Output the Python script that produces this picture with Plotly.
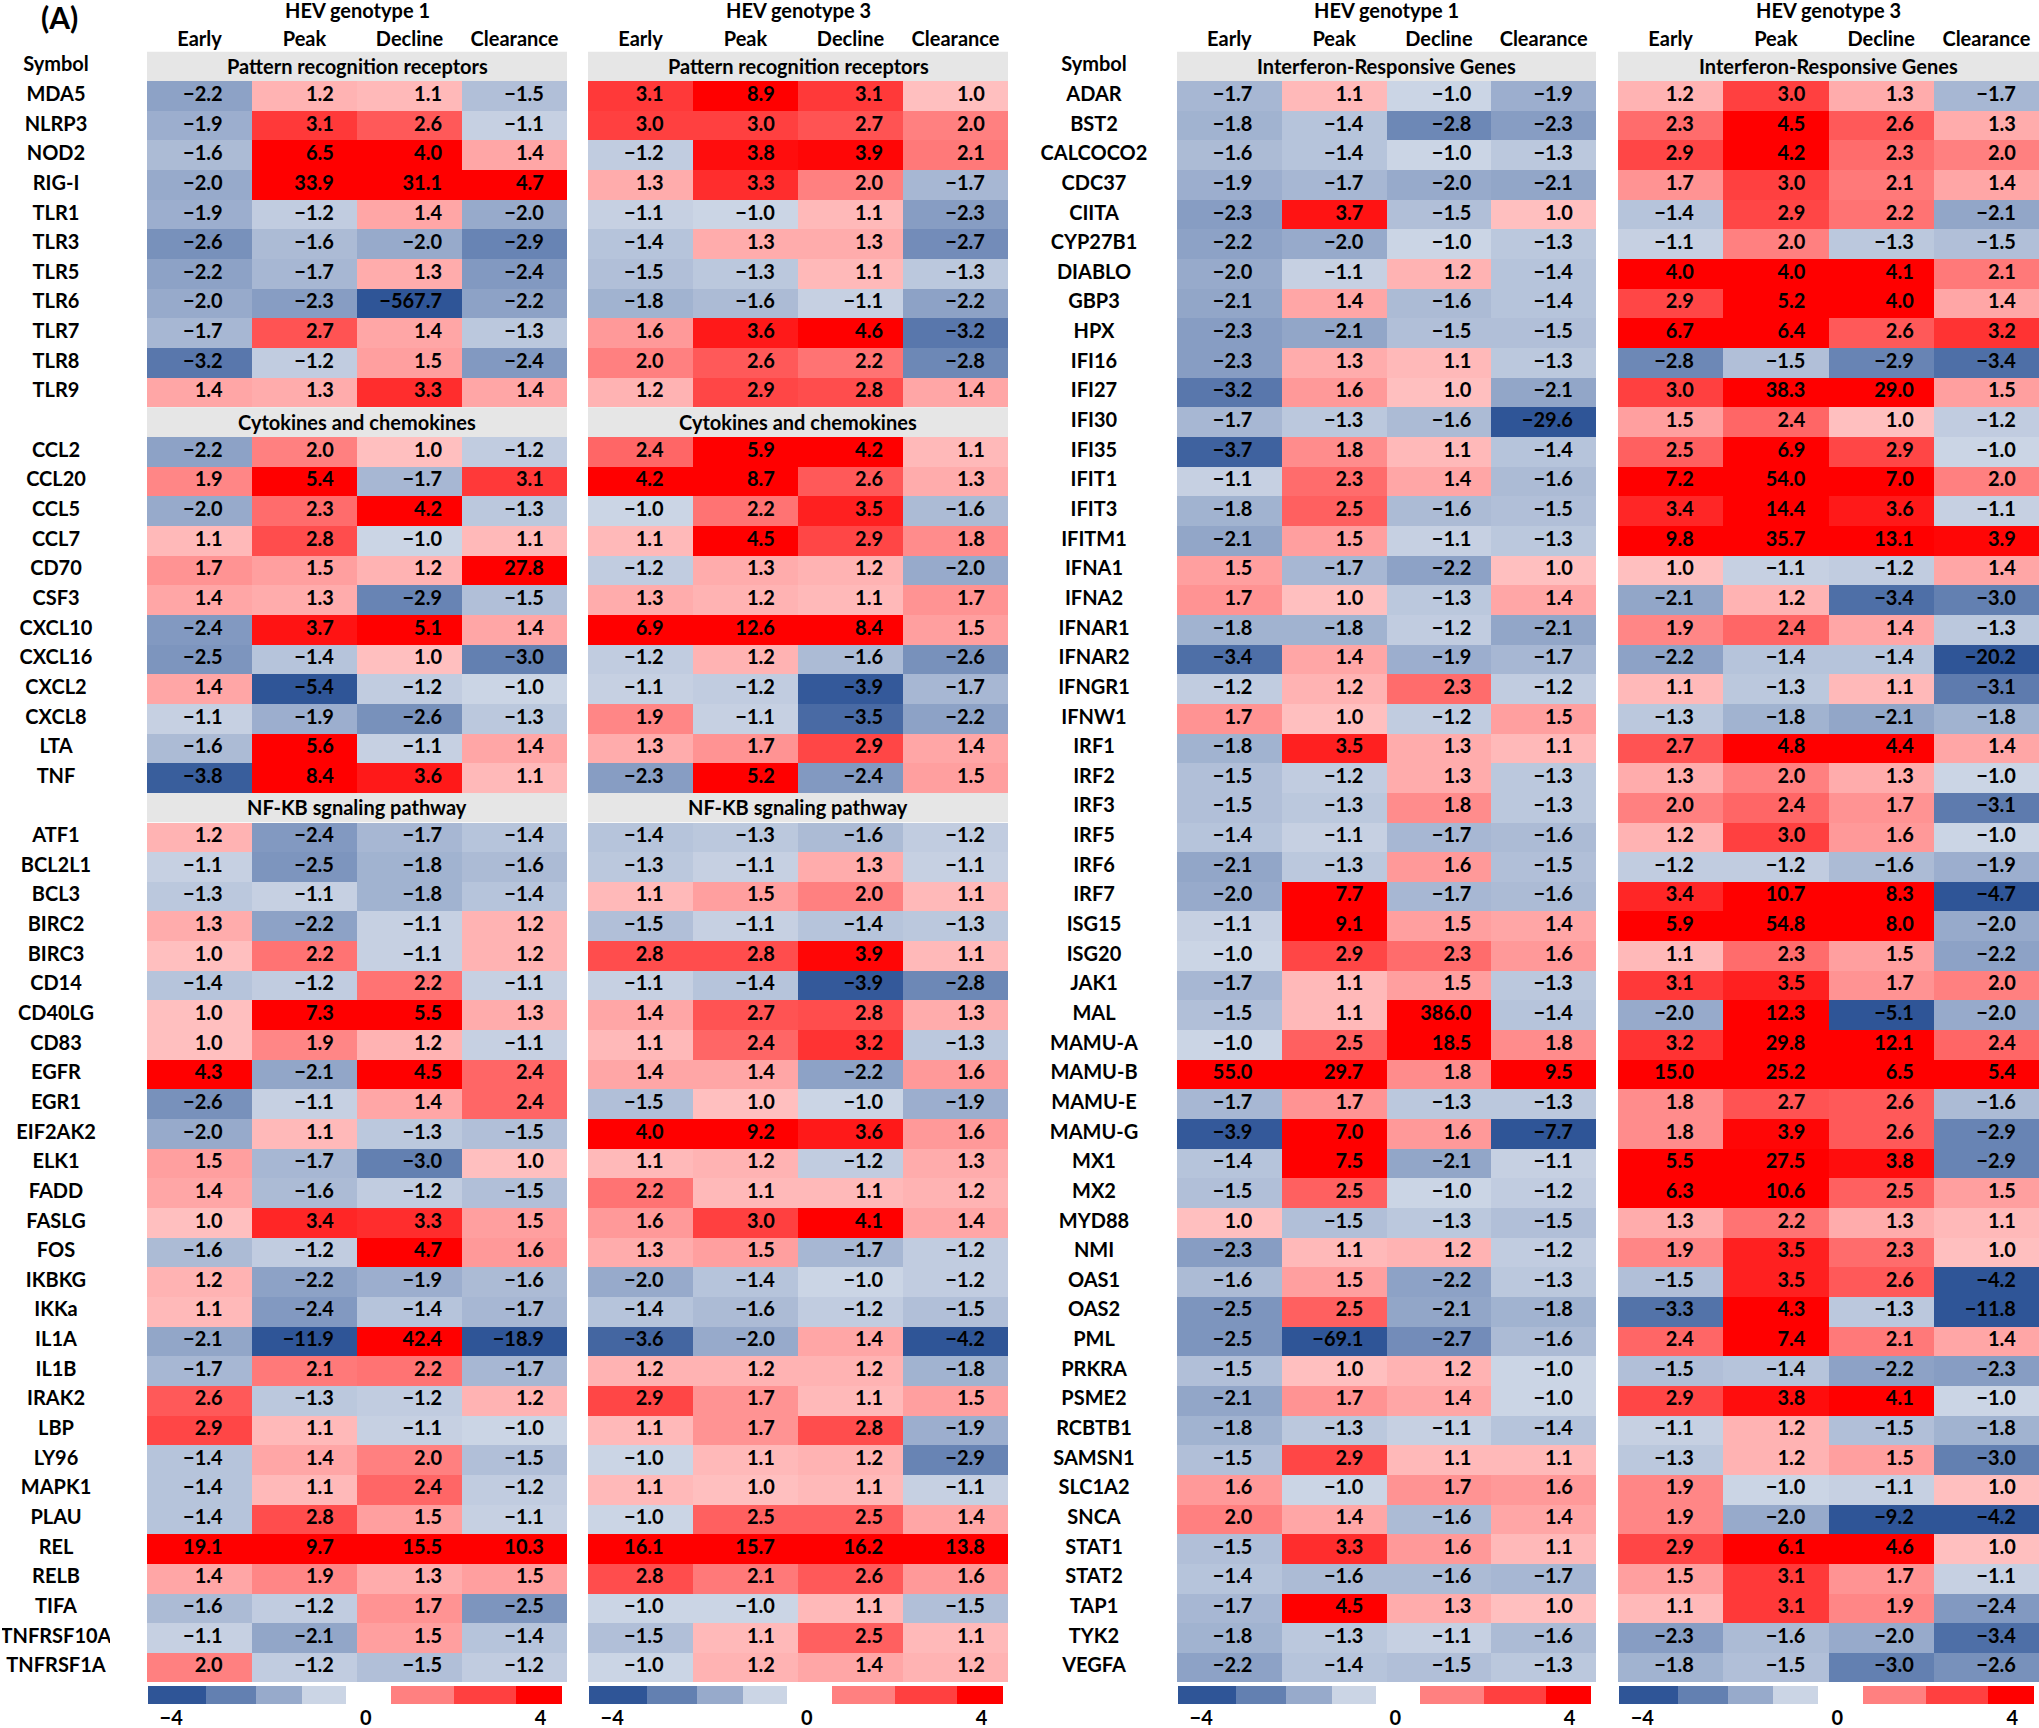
import math
import plotly.graph_objects as go

# ---------------- data ----------------
STAGES = ["Early", "Peak", "Decline", "Clearance"]
GENOTYPES = ["HEV genotype 1", "HEV genotype 3"]

PRR_TITLE = "Pattern recognition receptors"
PRR_GENES = ["MDA5", "NLRP3", "NOD2", "RIG-I", "TLR1", "TLR3", "TLR5", "TLR6", "TLR7", "TLR8", "TLR9"]
PRR_G1 = [[-2.2, 1.2, 1.1, -1.5], [-1.9, 3.1, 2.6, -1.1], [-1.6, 6.5, 4.0, 1.4], [-2.0, 33.9, 31.1, 4.7],
          [-1.9, -1.2, 1.4, -2.0], [-2.6, -1.6, -2.0, -2.9], [-2.2, -1.7, 1.3, -2.4], [-2.0, -2.3, -567.7, -2.2],
          [-1.7, 2.7, 1.4, -1.3], [-3.2, -1.2, 1.5, -2.4], [1.4, 1.3, 3.3, 1.4]]
PRR_G3 = [[3.1, 8.9, 3.1, 1.0], [3.0, 3.0, 2.7, 2.0], [-1.2, 3.8, 3.9, 2.1], [1.3, 3.3, 2.0, -1.7],
          [-1.1, -1.0, 1.1, -2.3], [-1.4, 1.3, 1.3, -2.7], [-1.5, -1.3, 1.1, -1.3], [-1.8, -1.6, -1.1, -2.2],
          [1.6, 3.6, 4.6, -3.2], [2.0, 2.6, 2.2, -2.8], [1.2, 2.9, 2.8, 1.4]]

CYTO_TITLE = "Cytokines and chemokines"
CYTO_GENES = ["CCL2", "CCL20", "CCL5", "CCL7", "CD70", "CSF3", "CXCL10", "CXCL16", "CXCL2", "CXCL8", "LTA", "TNF"]
CYTO_G1 = [[-2.2, 2.0, 1.0, -1.2], [1.9, 5.4, -1.7, 3.1], [-2.0, 2.3, 4.2, -1.3], [1.1, 2.8, -1.0, 1.1],
           [1.7, 1.5, 1.2, 27.8], [1.4, 1.3, -2.9, -1.5], [-2.4, 3.7, 5.1, 1.4], [-2.5, -1.4, 1.0, -3.0],
           [1.4, -5.4, -1.2, -1.0], [-1.1, -1.9, -2.6, -1.3], [-1.6, 5.6, -1.1, 1.4], [-3.8, 8.4, 3.6, 1.1]]
CYTO_G3 = [[2.4, 5.9, 4.2, 1.1], [4.2, 8.7, 2.6, 1.3], [-1.0, 2.2, 3.5, -1.6], [1.1, 4.5, 2.9, 1.8],
           [-1.2, 1.3, 1.2, -2.0], [1.3, 1.2, 1.1, 1.7], [6.9, 12.6, 8.4, 1.5], [-1.2, 1.2, -1.6, -2.6],
           [-1.1, -1.2, -3.9, -1.7], [1.9, -1.1, -3.5, -2.2], [1.3, 1.7, 2.9, 1.4], [-2.3, 5.2, -2.4, 1.5]]

NFKB_TITLE = "NF-KB sgnaling pathway"
NFKB_GENES = ["ATF1", "BCL2L1", "BCL3", "BIRC2", "BIRC3", "CD14", "CD40LG", "CD83", "EGFR", "EGR1", "EIF2AK2",
              "ELK1", "FADD", "FASLG", "FOS", "IKBKG", "IKKa", "IL1A", "IL1B", "IRAK2", "LBP", "LY96", "MAPK1",
              "PLAU", "REL", "RELB", "TIFA", "TNFRSF10A", "TNFRSF1A"]
NFKB_G1 = [[1.2, -2.4, -1.7, -1.4], [-1.1, -2.5, -1.8, -1.6], [-1.3, -1.1, -1.8, -1.4], [1.3, -2.2, -1.1, 1.2],
           [1.0, 2.2, -1.1, 1.2], [-1.4, -1.2, 2.2, -1.1], [1.0, 7.3, 5.5, 1.3], [1.0, 1.9, 1.2, -1.1],
           [4.3, -2.1, 4.5, 2.4], [-2.6, -1.1, 1.4, 2.4], [-2.0, 1.1, -1.3, -1.5], [1.5, -1.7, -3.0, 1.0],
           [1.4, -1.6, -1.2, -1.5], [1.0, 3.4, 3.3, 1.5], [-1.6, -1.2, 4.7, 1.6], [1.2, -2.2, -1.9, -1.6],
           [1.1, -2.4, -1.4, -1.7], [-2.1, -11.9, 42.4, -18.9], [-1.7, 2.1, 2.2, -1.7], [2.6, -1.3, -1.2, 1.2],
           [2.9, 1.1, -1.1, -1.0], [-1.4, 1.4, 2.0, -1.5], [-1.4, 1.1, 2.4, -1.2], [-1.4, 2.8, 1.5, -1.1],
           [19.1, 9.7, 15.5, 10.3], [1.4, 1.9, 1.3, 1.5], [-1.6, -1.2, 1.7, -2.5], [-1.1, -2.1, 1.5, -1.4],
           [2.0, -1.2, -1.5, -1.2]]
NFKB_G3 = [[-1.4, -1.3, -1.6, -1.2], [-1.3, -1.1, 1.3, -1.1], [1.1, 1.5, 2.0, 1.1], [-1.5, -1.1, -1.4, -1.3],
           [2.8, 2.8, 3.9, 1.1], [-1.1, -1.4, -3.9, -2.8], [1.4, 2.7, 2.8, 1.3], [1.1, 2.4, 3.2, -1.3],
           [1.4, 1.4, -2.2, 1.6], [-1.5, 1.0, -1.0, -1.9], [4.0, 9.2, 3.6, 1.6], [1.1, 1.2, -1.2, 1.3],
           [2.2, 1.1, 1.1, 1.2], [1.6, 3.0, 4.1, 1.4], [1.3, 1.5, -1.7, -1.2], [-2.0, -1.4, -1.0, -1.2],
           [-1.4, -1.6, -1.2, -1.5], [-3.6, -2.0, 1.4, -4.2], [1.2, 1.2, 1.2, -1.8], [2.9, 1.7, 1.1, 1.5],
           [1.1, 1.7, 2.8, -1.9], [-1.0, 1.1, 1.2, -2.9], [1.1, 1.0, 1.1, -1.1], [-1.0, 2.5, 2.5, 1.4],
           [16.1, 15.7, 16.2, 13.8], [2.8, 2.1, 2.6, 1.6], [-1.0, -1.0, 1.1, -1.5], [-1.5, 1.1, 2.5, 1.1],
           [-1.0, 1.2, 1.4, 1.2]]

IFN_TITLE = "Interferon-Responsive Genes"
IFN_GENES = ["ADAR", "BST2", "CALCOCO2", "CDC37", "CIITA", "CYP27B1", "DIABLO", "GBP3", "HPX", "IFI16", "IFI27",
             "IFI30", "IFI35", "IFIT1", "IFIT3", "IFITM1", "IFNA1", "IFNA2", "IFNAR1", "IFNAR2", "IFNGR1", "IFNW1",
             "IRF1", "IRF2", "IRF3", "IRF5", "IRF6", "IRF7", "ISG15", "ISG20", "JAK1", "MAL", "MAMU-A", "MAMU-B",
             "MAMU-E", "MAMU-G", "MX1", "MX2", "MYD88", "NMI", "OAS1", "OAS2", "PML", "PRKRA", "PSME2", "RCBTB1",
             "SAMSN1", "SLC1A2", "SNCA", "STAT1", "STAT2", "TAP1", "TYK2", "VEGFA"]
IFN_G1 = [[-1.7, 1.1, -1.0, -1.9], [-1.8, -1.4, -2.8, -2.3], [-1.6, -1.4, -1.0, -1.3], [-1.9, -1.7, -2.0, -2.1],
          [-2.3, 3.7, -1.5, 1.0], [-2.2, -2.0, -1.0, -1.3], [-2.0, -1.1, 1.2, -1.4], [-2.1, 1.4, -1.6, -1.4],
          [-2.3, -2.1, -1.5, -1.5], [-2.3, 1.3, 1.1, -1.3], [-3.2, 1.6, 1.0, -2.1], [-1.7, -1.3, -1.6, -29.6],
          [-3.7, 1.8, 1.1, -1.4], [-1.1, 2.3, 1.4, -1.6], [-1.8, 2.5, -1.6, -1.5], [-2.1, 1.5, -1.1, -1.3],
          [1.5, -1.7, -2.2, 1.0], [1.7, 1.0, -1.3, 1.4], [-1.8, -1.8, -1.2, -2.1], [-3.4, 1.4, -1.9, -1.7],
          [-1.2, 1.2, 2.3, -1.2], [1.7, 1.0, -1.2, 1.5], [-1.8, 3.5, 1.3, 1.1], [-1.5, -1.2, 1.3, -1.3],
          [-1.5, -1.3, 1.8, -1.3], [-1.4, -1.1, -1.7, -1.6], [-2.1, -1.3, 1.6, -1.5], [-2.0, 7.7, -1.7, -1.6],
          [-1.1, 9.1, 1.5, 1.4], [-1.0, 2.9, 2.3, 1.6], [-1.7, 1.1, 1.5, -1.3], [-1.5, 1.1, 386.0, -1.4],
          [-1.0, 2.5, 18.5, 1.8], [55.0, 29.7, 1.8, 9.5], [-1.7, 1.7, -1.3, -1.3], [-3.9, 7.0, 1.6, -7.7],
          [-1.4, 7.5, -2.1, -1.1], [-1.5, 2.5, -1.0, -1.2], [1.0, -1.5, -1.3, -1.5], [-2.3, 1.1, 1.2, -1.2],
          [-1.6, 1.5, -2.2, -1.3], [-2.5, 2.5, -2.1, -1.8], [-2.5, -69.1, -2.7, -1.6], [-1.5, 1.0, 1.2, -1.0],
          [-2.1, 1.7, 1.4, -1.0], [-1.8, -1.3, -1.1, -1.4], [-1.5, 2.9, 1.1, 1.1], [1.6, -1.0, 1.7, 1.6],
          [2.0, 1.4, -1.6, 1.4], [-1.5, 3.3, 1.6, 1.1], [-1.4, -1.6, -1.6, -1.7], [-1.7, 4.5, 1.3, 1.0],
          [-1.8, -1.3, -1.1, -1.6], [-2.2, -1.4, -1.5, -1.3]]
IFN_G3 = [[1.2, 3.0, 1.3, -1.7], [2.3, 4.5, 2.6, 1.3], [2.9, 4.2, 2.3, 2.0], [1.7, 3.0, 2.1, 1.4],
          [-1.4, 2.9, 2.2, -2.1], [-1.1, 2.0, -1.3, -1.5], [4.0, 4.0, 4.1, 2.1], [2.9, 5.2, 4.0, 1.4],
          [6.7, 6.4, 2.6, 3.2], [-2.8, -1.5, -2.9, -3.4], [3.0, 38.3, 29.0, 1.5], [1.5, 2.4, 1.0, -1.2],
          [2.5, 6.9, 2.9, -1.0], [7.2, 54.0, 7.0, 2.0], [3.4, 14.4, 3.6, -1.1], [9.8, 35.7, 13.1, 3.9],
          [1.0, -1.1, -1.2, 1.4], [-2.1, 1.2, -3.4, -3.0], [1.9, 2.4, 1.4, -1.3], [-2.2, -1.4, -1.4, -20.2],
          [1.1, -1.3, 1.1, -3.1], [-1.3, -1.8, -2.1, -1.8], [2.7, 4.8, 4.4, 1.4], [1.3, 2.0, 1.3, -1.0],
          [2.0, 2.4, 1.7, -3.1], [1.2, 3.0, 1.6, -1.0], [-1.2, -1.2, -1.6, -1.9], [3.4, 10.7, 8.3, -4.7],
          [5.9, 54.8, 8.0, -2.0], [1.1, 2.3, 1.5, -2.2], [3.1, 3.5, 1.7, 2.0], [-2.0, 12.3, -5.1, -2.0],
          [3.2, 29.8, 12.1, 2.4], [15.0, 25.2, 6.5, 5.4], [1.8, 2.7, 2.6, -1.6], [1.8, 3.9, 2.6, -2.9],
          [5.5, 27.5, 3.8, -2.9], [6.3, 10.6, 2.5, 1.5], [1.3, 2.2, 1.3, 1.1], [1.9, 3.5, 2.3, 1.0],
          [-1.5, 3.5, 2.6, -4.2], [-3.3, 4.3, -1.3, -11.8], [2.4, 7.4, 2.1, 1.4], [-1.5, -1.4, -2.2, -2.3],
          [2.9, 3.8, 4.1, -1.0], [-1.1, 1.2, -1.5, -1.8], [-1.3, 1.2, 1.5, -3.0], [1.9, -1.0, -1.1, 1.0],
          [1.9, -2.0, -9.2, -4.2], [2.9, 6.1, 4.6, 1.0], [1.5, 3.1, 1.7, -1.1], [1.1, 3.1, 1.9, -2.4],
          [-2.3, -1.6, -2.0, -3.4], [-1.8, -1.5, -3.0, -2.6]]

LEGEND_VALUES = [-4, -3, -2, -1, None, 2, 3, 4]
LEGEND_TICKS = ["\u22124", "0", "4"]

LEFT_SECTIONS = [(PRR_TITLE, PRR_GENES, PRR_G1, PRR_G3),
                 (CYTO_TITLE, CYTO_GENES, CYTO_G1, CYTO_G3),
                 (NFKB_TITLE, NFKB_GENES, NFKB_G1, NFKB_G3)]
RIGHT_SECTIONS = [(IFN_TITLE, IFN_GENES, IFN_G1, IFN_G3)]

# ---------------- style / layout ----------------
W, H = 2039, 1728
FONT = "Lato, 'Open Sans', Arial, sans-serif"
FS = 20
COLORSCALE = [[0.0, "#2F5597"], [0.5, "#FFFFFF"], [1.0, "#FF0000"]]
HEADER_FILL = "#E6E6E6"
GRID_TOP, GRID_BOT = 51.5, 1682
PANEL_PX = [(147, 567), (588, 1008), (1177, 1596), (1618, 2039)]
LABEL_CENTER_PX = [56, 1094]
CB_TOP, CB_BOT = 1686, 1704
CB_EDGES = [0, 0.141, 0.262, 0.372, 0.479, 0.587, 0.740, 0.890, 1.0]
CB_TICKPOS = [0.056, 0.526, 0.948]
TEXT_RIGHT = [0.22, 0.28, 0.31, 0.28]


def fx(p):
    return p / W


def fy(p):
    return 1 - p / H


def fmt(v):
    return f"{v:.1f}".replace("-", "\u2212")


def bold(s):
    return f"<b>{s}</b>"


def build_rows(sections):
    labels, headers, z1, z3 = [], [], [], []
    for title, genes, g1, g3 in sections:
        headers.append((len(labels), title))
        labels.append(None)
        z1.append([None] * 4)
        z3.append([None] * 4)
        for g, a, b in zip(genes, g1, g3):
            labels.append(g)
            z1.append(a)
            z3.append(b)
    return labels, headers, z1, z3


left = build_rows(LEFT_SECTIONS)
right = build_rows(RIGHT_SECTIONS)
NROWS = len(left[0])

fig = go.Figure()
layout = dict(
    width=W, height=H, margin=dict(l=0, r=0, t=0, b=0),
    paper_bgcolor="white", plot_bgcolor="white", showlegend=False,
    font=dict(family=FONT, size=FS, color="black"),
)
layout["yaxis"] = dict(domain=[fy(GRID_BOT), fy(GRID_TOP)], range=[NROWS - 0.5, -0.5],
                       visible=False, fixedrange=True)
layout["yaxis2"] = dict(domain=[fy(CB_BOT), fy(CB_TOP)], range=[-0.5, 0.5], visible=False)

shapes, annotations = [], []
panels = [(left, 1), (left, 3), (right, 1), (right, 3)]
for i, ((labels, headers, z1, z3), gtype) in enumerate(panels):
    ax = i + 1
    xname = "x" if ax == 1 else f"x{ax}"
    z = z1 if gtype == 1 else z3
    x0, x1 = PANEL_PX[i]
    layout["xaxis" if ax == 1 else f"xaxis{ax}"] = dict(
        domain=[fx(x0), fx(x1)], range=[-0.5, 3.5], anchor="y", side="top",
        tickvals=list(range(4)), ticktext=[bold(s) for s in STAGES], ticks="", showgrid=False,
        zeroline=False, showline=False, tickfont=dict(family=FONT, size=FS, color="black"),
        ticklabelstandoff=1,
    )
    fig.add_trace(go.Heatmap(
        z=z, x=list(range(4)), y=list(range(NROWS)), xaxis=xname, yaxis="y",
        colorscale=COLORSCALE, zmin=-4, zmax=4, showscale=False, hoverongaps=False,
    ))
    tx, ty, tt = [], [], []
    for r, row in enumerate(z):
        for c, v in enumerate(row):
            if v is not None:
                tx.append(c + TEXT_RIGHT[c])
                ty.append(r)
                tt.append(bold(fmt(v)))
    fig.add_trace(go.Scatter(
        x=tx, y=ty, text=tt, mode="text", textposition="middle left", xaxis=xname, yaxis="y",
        textfont=dict(family=FONT, size=FS, color="black"), hoverinfo="skip",
    ))
    for r, title in headers:
        shapes.append(dict(type="rect", xref=xname, yref="y", x0=-0.5, x1=3.5, y0=r - 0.5, y1=r + 0.5,
                           fillcolor=HEADER_FILL, line=dict(width=0), layer="below"))
        annotations.append(dict(xref=xname, yref="y", x=1.5, y=r, text=bold(title), showarrow=False,
                                font=dict(family=FONT, size=FS, color="black")))
    annotations.append(dict(xref=xname, yref="paper", x=1.5, y=fy(10),
                            text=bold(GENOTYPES[0 if gtype == 1 else 1]),
                            showarrow=False, yanchor="middle",
                            font=dict(family=FONT, size=FS, color="black")))

    # colour legend under each panel
    cax = 10 + i
    layout[f"xaxis{cax}"] = dict(domain=[fx(x0 + 1), fx(x1 - 5)], range=[0, 1], anchor="y2",
                                 tickvals=CB_TICKPOS, ticktext=[bold(t) for t in LEGEND_TICKS], ticks="",
                                 showgrid=False, zeroline=False, showline=False, ticklabelstandoff=0,
                                 tickfont=dict(family=FONT, size=FS, color="black"))
    fig.add_trace(go.Heatmap(
        z=[LEGEND_VALUES], x=CB_EDGES, y=[0], xaxis=f"x{cax}", yaxis="y2",
        colorscale=COLORSCALE, zmin=-4, zmax=4, showscale=False, hoverinfo="skip",
    ))

# gene symbol columns
for j, (labels, headers, _, _) in enumerate([left, right]):
    lax = 20 + j
    c = LABEL_CENTER_PX[j]
    layout[f"xaxis{lax}"] = dict(domain=[fx(c - 54), fx(c + 54)], range=[0, 1], anchor="y", visible=False)
    ys = list(range(NROWS))
    txt = [bold("Symbol" if g is None and r == 0 else (g or "")) for r, g in enumerate(labels)]
    fig.add_trace(go.Scatter(
        x=[0.5] * NROWS, y=ys, text=txt, mode="text", textposition="middle center",
        xaxis=f"x{lax}", yaxis="y", hoverinfo="skip",
        textfont=dict(family=FONT, size=FS, color="black"),
    ))

annotations.append(dict(xref="paper", yref="paper", x=fx(59), y=fy(17), text="<b>(A)</b>", showarrow=False,
                        xanchor="center", yanchor="middle", font=dict(family=FONT, size=30, color="black")))

layout["shapes"] = shapes
layout["annotations"] = annotations
fig.update_layout(**layout)
fig.write_html("out.html", config={"displayModeBar": False},
               post_script="document.body.style.margin='0';document.body.style.padding='0';"
                           "document.body.style.overflow='hidden';")
